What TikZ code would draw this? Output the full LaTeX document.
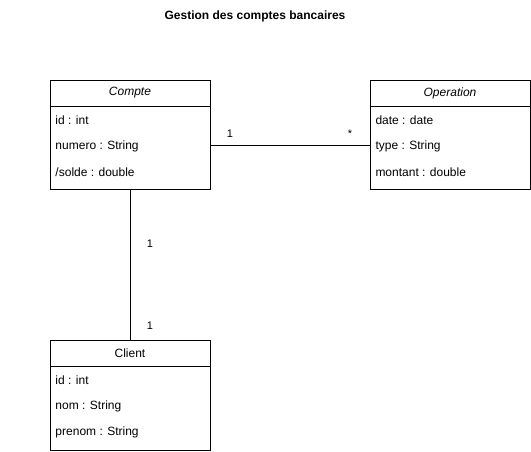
\documentclass[tikz,border=0pt]{standalone}
\usepackage{fontspec}
\setmainfont{Liberation Sans}
\usetikzlibrary{positioning}

\begin{document}
\begin{tikzpicture}[x=1pt,y=-1pt,line width=1pt,
    font=\fontsize{12}{14}\selectfont]

% Class styles
\tikzset{
    classhead/.style={draw,minimum width=160pt,minimum height=26pt,
        inner sep=0pt,outer sep=0pt,anchor=north west},
    classbody/.style={draw,minimum width=160pt,inner sep=0pt,outer sep=0pt},
    attr/.style={anchor=west,inner sep=0pt},
    mult/.style={font=\fontsize{11}{13}\selectfont,inner sep=0pt}
}

\useasboundingbox (0,0) rectangle (531,451);

% Title
\node[font=\bfseries\fontsize{12}{14}\selectfont] (titre) at (255,16.5)
    {Gestion des comptes bancaires};

% Classes
\node[classhead] (compte) at (50,80) {\textit{Compte}};
\node[classbody,minimum height=83pt,below=0pt of compte] (compteB) {};
\node[attr] (cId) at (55,120) {id : int};
\node[attr] (cNum) at (55,146) {numero : String};
\node[attr] (cSolde) at (55,172) {/solde : double};

\node[classhead] (oper) at (370,80) {\textit{Operation}};
\node[classbody,minimum height=83pt,below=0pt of oper] (operB) {};
\node[attr] (oDate) at (375,120) {date : date};
\node[attr] (oType) at (375,146) {type : String};
\node[attr] (oMont) at (375,172) {montant : double};

\node[classhead] (client) at (50,340) {Client};
\node[classbody,minimum height=84pt,below=0pt of client] (clientB) {};
\node[attr] (clId) at (55,380) {id : int};
\node[attr] (clNom) at (55,406) {nom : String};
\node[attr] (clPre) at (55,432) {prenom : String};

% Associations
\coordinate (lien) at (290,145);
\draw (compteB.east |- lien) -- (operB.west |- lien);
\draw (compteB.south) -- (client.north);

% Multiplicities
\node[mult] (m1) at (230,134) {1};
\node[mult] (m2) at (350,134) {*};
\node[mult] (m3) at (150,244) {1};
\node[mult] (m4) at (150,326) {1};

\end{tikzpicture}
\end{document}
